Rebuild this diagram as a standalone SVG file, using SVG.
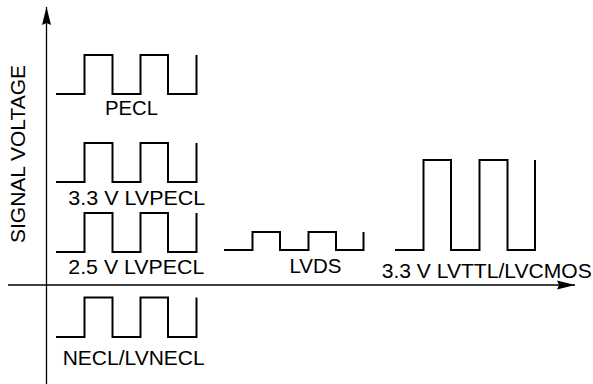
<svg xmlns="http://www.w3.org/2000/svg" width="593" height="384" viewBox="0 0 593 384">
<style>
.w{fill:none;stroke:#000;stroke-width:2;stroke-linejoin:miter}
.ax{fill:none;stroke:#000;stroke-width:1.3}
.t{font-family:"Liberation Sans",Arial,sans-serif;font-size:20px;fill:#000}
</style>
<defs>
<marker id="ah" viewBox="0 0 18 10" refX="18" refY="5" markerWidth="18" markerHeight="10" markerUnits="userSpaceOnUse" orient="auto">
<path d="M0,0.5 L18,5 L0,9.5 L2,5 Z" fill="#000"/>
</marker>
</defs>
<g id="connectors">
<path class="ax" d="M46.5,384 V7" marker-end="url(#ah)"/>
<path class="ax" d="M8,285 H575" marker-end="url(#ah)"/>
</g>
<text class="t" transform="translate(25,154) rotate(-90)" text-anchor="middle" textLength="178" lengthAdjust="spacingAndGlyphs">SIGNAL VOLTAGE</text>
<g id="pecl">
<path class="w" d="M56,94 H84.5 V55 H112.5 V94 H140.5 V55 H168 V94 H196.5 V55"/>
<text class="t" x="105" y="115" textLength="53" lengthAdjust="spacingAndGlyphs">PECL</text>
</g>
<g id="lvpecl33">
<path class="w" d="M56,182 H84.5 V143 H112.5 V182 H140.5 V143 H168 V182 H196.5 V143"/>
<text class="t" x="68.3" y="205" textLength="137" lengthAdjust="spacingAndGlyphs">3.3 V LVPECL</text>
</g>
<g id="lvpecl25">
<path class="w" d="M56,252 H84.5 V213 H112.5 V252 H140.5 V213 H168 V252 H196.5 V213"/>
<text class="t" x="68.3" y="274" textLength="136" lengthAdjust="spacingAndGlyphs">2.5 V LVPECL</text>
</g>
<g id="necl">
<path class="w" d="M56,337 H84.5 V297.5 H112.5 V337 H140.5 V297.5 H168 V337 H196.5 V297.5"/>
<text class="t" x="62.7" y="365" textLength="142" lengthAdjust="spacingAndGlyphs">NECL/LVNECL</text>
</g>
<g id="lvds">
<path class="w" d="M224,250 H252.5 V232 H280 V250 H308.5 V232 H336 V250 H363.5 V232"/>
<text class="t" x="289.5" y="272.7" textLength="52" lengthAdjust="spacingAndGlyphs">LVDS</text>
</g>
<g id="lvttl">
<path class="w" d="M395,250 H423.5 V160 H451 V250 H479.5 V160 H507.5 V250 H535 V160"/>
<text class="t" x="381.7" y="278.3" textLength="210" lengthAdjust="spacingAndGlyphs">3.3 V LVTTL/LVCMOS</text>
</g>
</svg>
